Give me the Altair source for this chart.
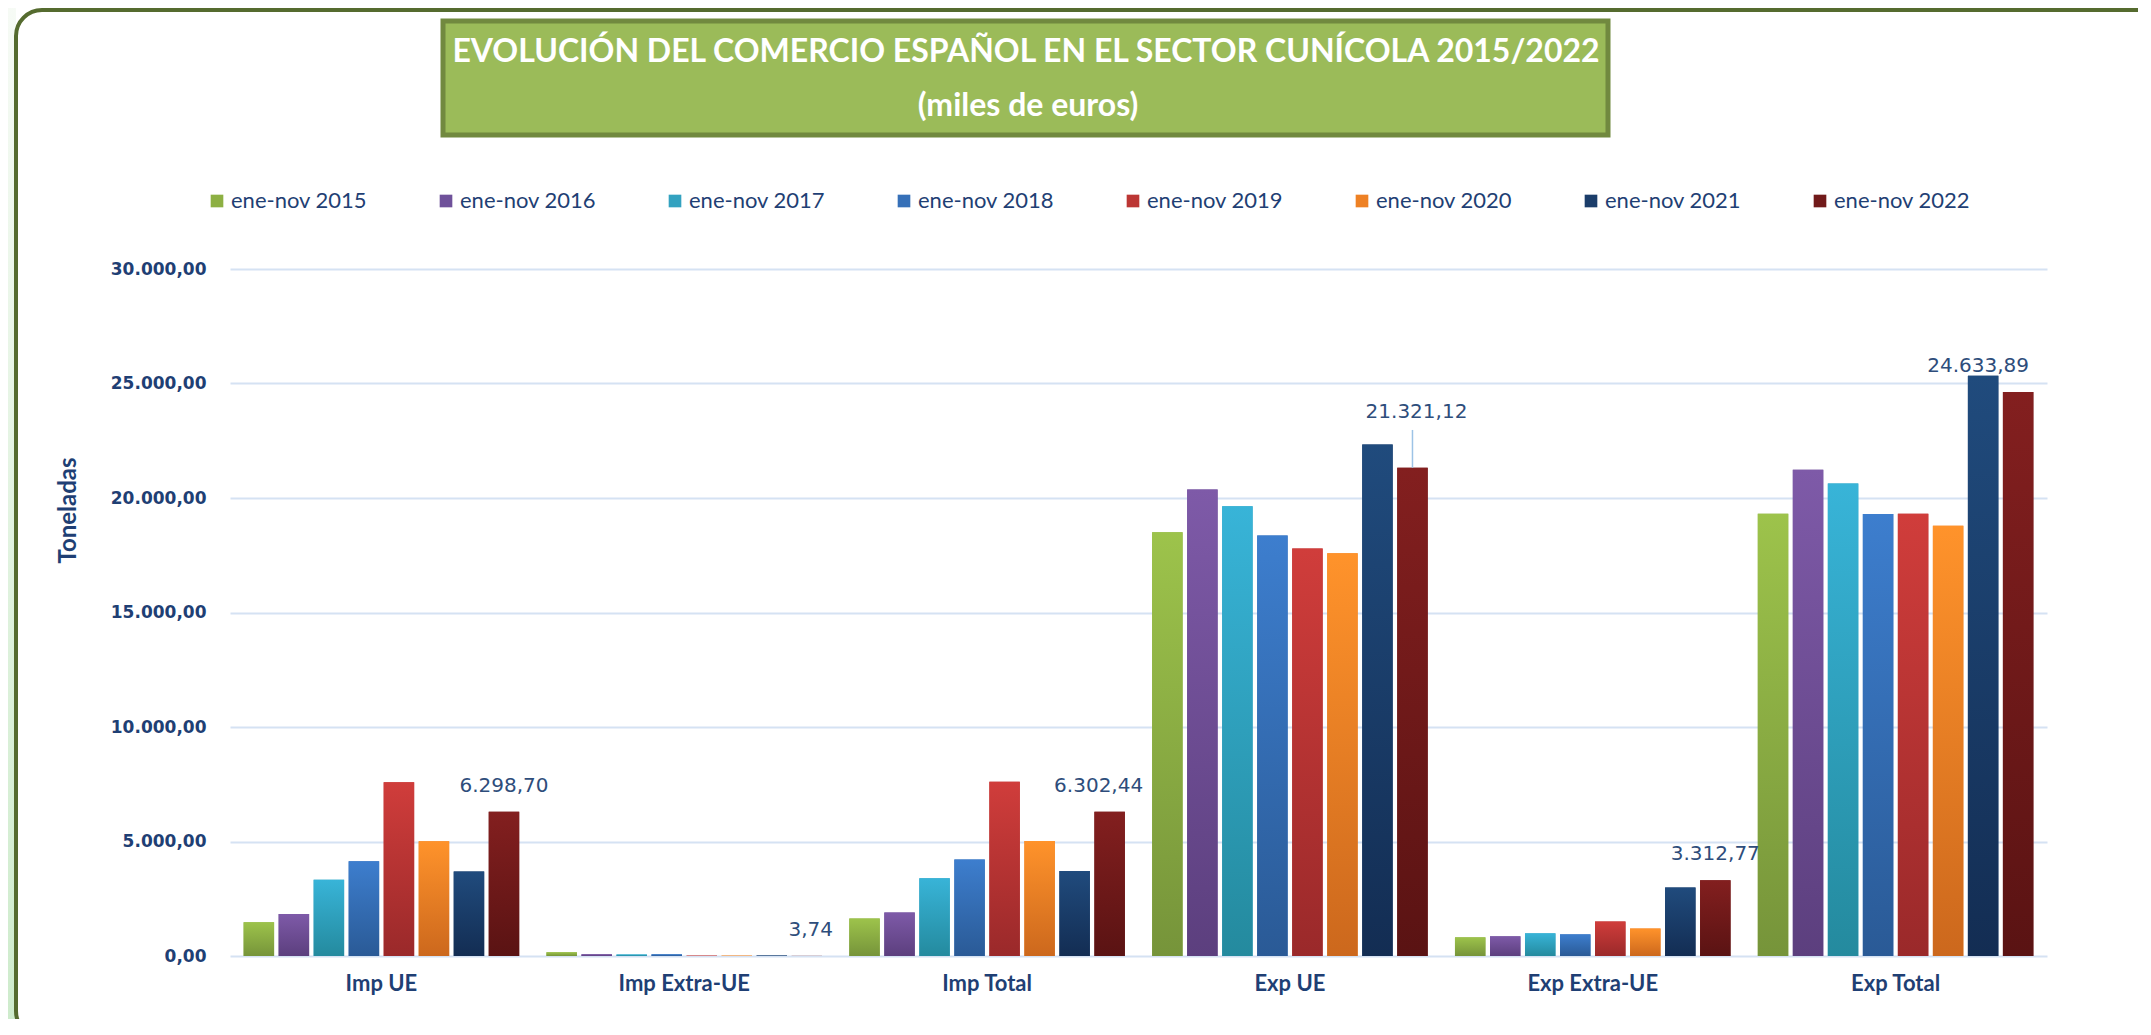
import altair as alt
import pandas as pd

categories = ["Imp UE", "Imp Extra-UE", "Imp Total", "Exp UE", "Exp Extra-UE", "Exp Total"]
years = ["ene-nov 2015", "ene-nov 2016", "ene-nov 2017", "ene-nov 2018",
         "ene-nov 2019", "ene-nov 2020", "ene-nov 2021", "ene-nov 2022"]

v2015 = [1475, 160, 1635, 18500, 815, 19315]
v2016 = [1830, 75, 1905, 20370, 860, 21230]
v2017 = [3330, 70, 3400, 19640, 990, 20630]
v2018 = [4135, 75, 4210, 18360, 945, 19305]
v2019 = [7590, 15, 7605, 17800, 1510, 19310]
v2020 = [5010, 15, 5025, 17590, 1200, 18790]
v2021 = [3690, 20, 3710, 22340, 2995, 25335]
v2022 = [6298.70, 3.74, 6302.44, 21321.12, 3312.77, 24633.89]
series = [v2015, v2016, v2017, v2018, v2019, v2020, v2021, v2022]

title_line1 = "EVOLUCIÓN DEL COMERCIO ESPAÑOL EN EL SECTOR CUNÍCOLA 2015/2022"
title_line2 = "(miles de euros)"
y_title = "Toneladas"


def fmt_es(v):
    return f"{v:,.2f}".replace(",", "#").replace(".", ",").replace("#", ".")


rows = []
for yr, vals in zip(years, series):
    for c, v in zip(categories, vals):
        rows.append({"cat": c, "year": yr, "value": v, "lbl": fmt_es(v)})
df = pd.DataFrame(rows)
one = pd.DataFrame({"k": [0]})

flat_colors = ["#8DB043", "#6F519A", "#33A2C0", "#3670B8", "#BC3634", "#EE8124", "#1B3D6A", "#711A1A"]
grad_colors = [("#9DC34B", "#76943A"), ("#7E5AA8", "#5C3F7E"), ("#38B4D8", "#248A9E"),
               ("#3D7ECE", "#2A5A96"), ("#D03D3B", "#9A292A"), ("#FF932B", "#CC681D"),
               ("#204B7D", "#132D53"), ("#831F1F", "#5A1313")]

navy = "#1F3F74"
lbl_color = "#2E4D7B"

x_enc = alt.X("cat:N", sort=categories,
              scale=alt.Scale(paddingInner=0.09, paddingOuter=0.045),
              axis=alt.Axis(title=None, labelAngle=0, domain=False, ticks=False,
                            labelFont="Lato", labelFontWeight="bold", labelFontSize=22,
                            labelColor=navy, labelPadding=17))
xo_enc = alt.XOffset("year:N", scale=alt.Scale(domain=years, paddingInner=0.13))
y_enc = alt.Y("value:Q",
              scale=alt.Scale(domain=[0, 30000], nice=False),
              axis=alt.Axis(title=y_title, values=[0, 5000, 10000, 15000, 20000, 25000, 30000],
                            labelExpr="replace(replace(replace(format(datum.value, ',.2f'), ',', '#'), '.', ','), '#', '.')",
                            domain=False, ticks=False, labelFont="DejaVu Sans", labelFontWeight="bold",
                            labelFontSize=17, labelColor=navy, labelPadding=24,
                            gridColor="#D5E2F3", gridWidth=2,
                            titleFont="Lato", titleFontWeight="bold", titleFontSize=24,
                            titleColor=navy, titleX=-150, titleY=241))

# decorative background pieces
strip = alt.Chart(one).mark_rect(
    fill=alt.LinearGradient(gradient="linear",
                            stops=[alt.GradientStop(color="#F7FBF6", offset=0),
                                   alt.GradientStop(color="#CDEBCB", offset=1)],
                            x1=0, x2=0, y1=0, y2=1)
).encode(x=alt.value(-240), x2=alt.value(-214), y=alt.value(-280), y2=alt.value(780))

frame = alt.Chart(one).mark_rect(
    fill="white", fillOpacity=0, stroke="#556B2F", strokeWidth=4, cornerRadius=26
).encode(x=alt.value(-214), x2=alt.value(2000), y=alt.value(-259), y2=alt.value(768))

title_box = alt.Chart(one).mark_rect(
    fill="#9BBB59", stroke="#71893F", strokeWidth=5
).encode(x=alt.value(213), x2=alt.value(1378), y=alt.value(-248), y2=alt.value(-134))

t1 = alt.Chart(one).mark_text(font="Lato", fontWeight="bold", fontSize=32, color="white",
                              align="center", baseline="middle").encode(
    x=alt.value(796), y=alt.value(-217), text=alt.value(title_line1))
t2 = alt.Chart(one).mark_text(font="Lato", fontWeight="bold", fontSize=32, color="white",
                              align="center", baseline="middle").encode(
    x=alt.value(798), y=alt.value(-163), text=alt.value(title_line2))

flat = alt.Chart(df).mark_bar().encode(
    x=x_enc, xOffset=xo_enc, y=y_enc,
    color=alt.Color("year:N", scale=alt.Scale(domain=years, range=flat_colors),
                    legend=alt.Legend(orient="none", legendX=-24, legendY=-79,
                                      direction="horizontal", columns=8, title=None,
                                      symbolType="square", symbolSize=160, symbolStrokeWidth=0,
                                      labelFont="Lato", labelFontSize=22, labelColor=navy,
                                      labelOffset=3, columnPadding=67))
)

grad_layers = []
for yr, (c1, c2) in zip(years, grad_colors):
    grad_layers.append(
        alt.Chart(df).transform_filter(alt.datum.year == yr).mark_bar(
            fill=alt.LinearGradient(gradient="linear",
                                    stops=[alt.GradientStop(color=c1, offset=0),
                                           alt.GradientStop(color=c2, offset=1)],
                                    x1=0, x2=0, y1=0, y2=1)
        ).encode(x=x_enc, xOffset=xo_enc, y=y_enc)
    )

label_offsets = {"Imp UE": (0, -26), "Imp Extra-UE": (4, -26), "Imp Total": (-11, -26),
                 "Exp UE": (4, -56), "Exp Extra-UE": (0, -26), "Exp Total": (-40, -26)}
label_layers = []
for c in categories:
    dx, dy = label_offsets[c]
    label_layers.append(
        alt.Chart(df).transform_filter(
            (alt.datum.cat == c) & (alt.datum.year == years[-1])
        ).mark_text(font="DejaVu Sans", fontSize=20, color=lbl_color, align="center",
                    baseline="middle", dx=dx, dy=dy).encode(
            x=x_enc, xOffset=xo_enc, y=y_enc, text="lbl:N")
    )

leader = alt.Chart(df).transform_filter(
    (alt.datum.cat == "Exp UE") & (alt.datum.year == years[-1])
).transform_calculate(top="datum.value + 1650").mark_rule(
    color="#9DC3E6", strokeWidth=1.5
).encode(x=x_enc, xOffset=xo_enc, y=y_enc, y2="top:Q")

chart = alt.layer(strip, frame, title_box, t1, t2, flat, *grad_layers, leader, *label_layers).properties(
    width=1817, height=687,
    padding={"left": 222, "top": 261, "right": 91, "bottom": 63},
    autosize=alt.AutoSizeParams(type="none"),
    background="white",
).configure_view(strokeWidth=0)

chart.save("out.html", embed_options={"renderer": "svg", "actions": False})
